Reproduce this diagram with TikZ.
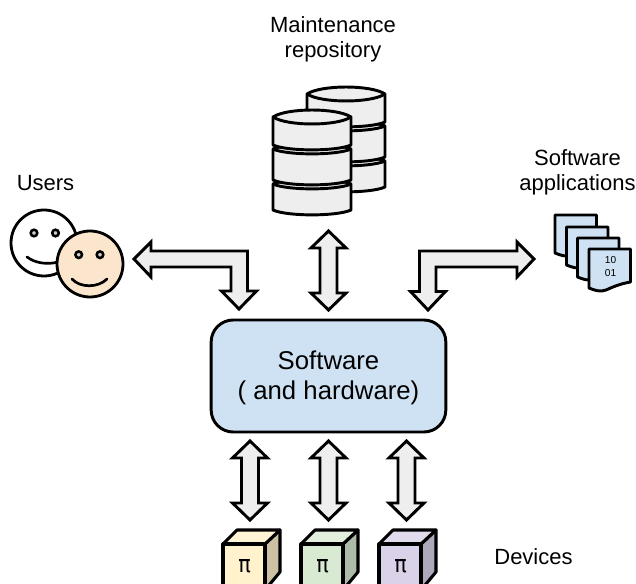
\documentclass[tikz,border=0pt]{standalone}
\usepackage{fontspec}
\setmainfont{Liberation Sans}
\newfontfamily\pifont{DejaVu Sans}
\definecolor{boxblue}{HTML}{CFE2F3}
\definecolor{arrowgray}{HTML}{EEEEEE}
\definecolor{skin}{HTML}{FCE5CD}
\definecolor{eyegray}{HTML}{CCCCCC}
\definecolor{cubeA}{HTML}{FFF2CC}
\definecolor{cubeAs}{HTML}{CCC2A3}
\definecolor{cubeAt}{HTML}{FFF5D6}
\definecolor{cubeB}{HTML}{D9EAD3}
\definecolor{cubeBs}{HTML}{AEBBA9}
\definecolor{cubeBt}{HTML}{E1EFDC}
\definecolor{cubeC}{HTML}{D9D2E9}
\definecolor{cubeCs}{HTML}{AEA8BA}
\definecolor{cubeCt}{HTML}{E1DBED}
\tikzset{
  px/.style={x=0.75pt,y=-0.75pt},
  label/.style={font=\fontsize{16.5pt}{18.9pt}\selectfont,inner sep=0pt,align=center},
  blockarrow/.style={draw=black,fill=arrowgray,line width=2.2pt,line join=miter,miter limit=10},
  part/.style={draw=black,line width=2.3pt,line join=round},
  cyl/.style={draw=black,fill=arrowgray,line width=2.2pt,line join=round},
  eye/.style={draw=black,fill=eyegray,line width=1.9pt},
  mouth/.style={draw=black,line width=2pt,line cap=round},
  page/.style={draw=black,fill=boxblue,line width=2.2pt,line join=round},
}
% vertical double block arrow: x, top y, bottom y, name
\newcommand{\vdarrow}[4]{%
  \coordinate (#4) at (#1,{(#2+#3)/2});
  \draw[blockarrow] (#1,#2) -- (#1+17.5,#2+17) -- (#1+8.5,#2+17) -- (#1+8.5,#3-17) -- (#1+17.5,#3-17)
    -- (#1,#3) -- (#1-17.5,#3-17) -- (#1-8.5,#3-17) -- (#1-8.5,#2+17) -- (#1-17.5,#2+17) -- cycle;
}
% cylinder segment: left x, top-ellipse y, side-bottom y, top-arc control depth
\newcommand{\cylseg}[4]{%
  \draw[cyl] (#1,#2) -- (#1,#3) .. controls (#1+14,#3+6.5) and (#1+64,#3+6.5) .. (#1+78,#3) -- (#1+78,#2)
    .. controls (#1+64,#2-#4) and (#1+14,#2-#4) .. (#1,#2) -- cycle;
  \draw[cyl,fill=none] (#1,#2) .. controls (#1+14,#2+#4) and (#1+64,#2+#4) .. (#1+78,#2);
}
% database stack
\newcommand{\dbstack}[2]{%
  \cylseg{#1}{#2+67}{#2+93}{6.5}
  \cylseg{#1}{#2+32}{#2+63}{6.5}
  \cylseg{#1}{#2}{#2+28}{9.3}
}
% device cube: front-left x, name, front fill, side fill, top fill
\newcommand{\cube}[5]{%
  \draw[part,fill=#4] (#1+42,544) -- (#1+57,530) -- (#1+57,572) -- (#1+42,590) -- cycle;
  \draw[part,fill=#5] (#1,544) -- (#1+14,530) -- (#1+57,530) -- (#1+42,544) -- cycle;
  \draw[part,fill=#3] (#1,544) rectangle (#1+42,595);
  \node[inner sep=0pt,yscale=1.15,font=\pifont\fontsize{15.5pt}{18pt}\selectfont] (#2) at (#1+21.5,566) {π};
}
% document sheet: left x, top y, bottom-left y
\newcommand{\sheet}[3]{%
  \draw[page] (#1,#2) -- (#1+41.5,#2) -- (#1+41.5,#3-6)
   .. controls (#1+30,#3-4) and (#1+24,#3-1) .. (#1+17,#3+2) .. controls (#1+11,#3+4.5) and (#1+5,#3+2) .. (#1,#3) -- cycle;
}
\begin{document}
\begin{tikzpicture}[px]
\useasboundingbox (0,0) rectangle (636,584);
\clip (0,0) rectangle (636,584);

% Texts
\node[label] (maint) at (333,39) {Maintenance\\repository};
\node[label] (users) at (45.5,183) {Users};
\node[label] (apps) at (577.5,172) {Software\\applications};
\node[label] (devices) at (533.5,557) {Devices};

% Central box
\node[draw=black,fill=boxblue,line width=2.2pt,rounded corners=16.5pt,minimum width=176pt,minimum height=84pt,inner sep=0pt,
  align=center,font=\fontsize{19.3pt}{22.5pt}\selectfont] (sw) at (328.5,376) {\raisebox{0pt}[17pt][0pt]{Software}\\( and hardware)};

% Databases
\dbstack{307}{94}
\dbstack{273}{117}

% Users
\node[draw=black,fill=white,circle,line width=2.1pt,minimum size=49.5pt,inner sep=0pt] (u1) at (44,243) {};
\draw[eye] (34,233) circle (3.3);
\draw[eye] (55.5,233) circle (3.3);
\draw[mouth] (27,257) .. controls (35,263) and (47,265) .. (58,262);
\node[draw=black,fill=skin,circle,line width=2.1pt,minimum size=49.5pt,inner sep=0pt] (u2) at (90,264) {};
\draw[eye] (78.7,254.7) circle (3.3);
\draw[eye] (100,254.7) circle (3.3);
\draw[mouth] (72,279) .. controls (80,288) and (98,288) .. (107,279);

% Block arrows
\coordinate (al) at (134,259);
\draw[blockarrow] (134,259) -- (151,242) -- (151,251) -- (247.5,251) -- (247.5,291) -- (256.5,291)
  -- (239,309) -- (221.5,291) -- (231,291) -- (231,267) -- (151,267) -- (151,277) -- cycle;
\coordinate (ar) at (534,259);
\draw[blockarrow] (534,259) -- (517,242) -- (517,251) -- (419.5,251) -- (419.5,291.5) -- (410.5,291.5)
  -- (428,310) -- (445.5,291.5) -- (436,291.5) -- (436,267) -- (517,267) -- (517,277) -- cycle;
\vdarrow{328.5}{231}{310}{at}
\vdarrow{250}{441}{520}{a1}
\vdarrow{328.5}{441}{520}{a2}
\vdarrow{406.5}{441}{520}{a3}

% Documents
\sheet{555}{215}{253}
\sheet{566.5}{227}{265}
\sheet{577.5}{238}{277}
\sheet{589}{249}{288}
\node[inner sep=0pt,align=center,font=\fontsize{7.6pt}{9.5pt}\selectfont] (bits) at (610.5,266.5) {10\\01};

% Devices
\cube{223}{d1}{cubeA}{cubeAs}{cubeAt}
\cube{301}{d2}{cubeB}{cubeBs}{cubeBt}
\cube{379}{d3}{cubeC}{cubeCs}{cubeCt}
\end{tikzpicture}
\end{document}
